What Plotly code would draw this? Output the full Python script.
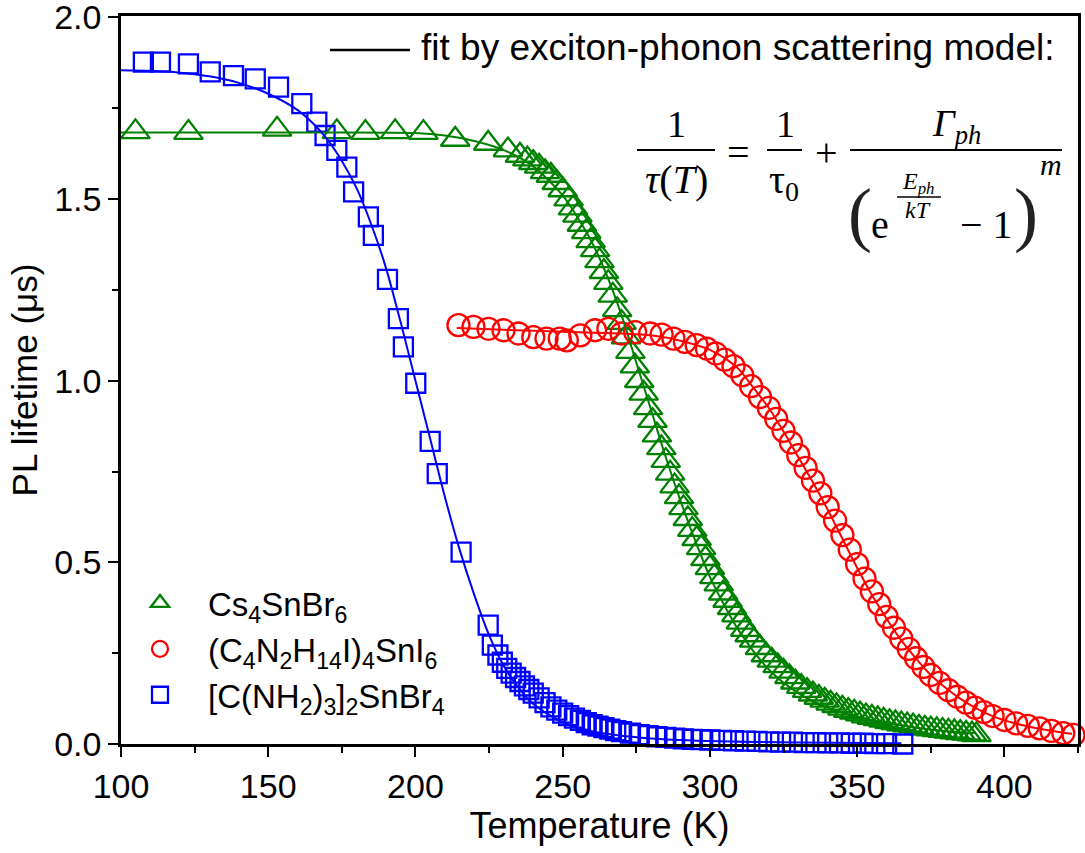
import plotly.graph_objects as go

# ---------------- data ----------------
cs_T = [104.9, 122.9, 153.0, 173.3, 183.0, 193.1, 202.7, 213.5, 224.7, 231.4, 235.5, 238, 240, 242, 244,
        246, 248, 250, 252, 253.5, 255, 256.5, 258, 259.5, 261, 262.5, 264, 265.5, 267, 268.5, 270,
        271.5, 273, 274.5, 276, 277.5, 279, 280.5, 282, 283.5, 285, 286.5, 288, 289.5, 291, 292.5,
        294, 295.5, 297, 298.5, 300, 301.5, 303, 304.5, 306, 307.5, 309, 310.5, 312, 313.5, 315,
        317, 319, 321, 323, 325, 327, 329, 331, 333, 335, 337, 339, 341, 343, 345, 347, 349, 351,
        353, 355, 357, 359, 361, 363, 365, 367, 369, 371, 373, 375, 377, 379, 381, 383, 385, 387,
        389, 390.5]
cs_tau = [1.685, 1.683, 1.692, 1.685, 1.683, 1.685, 1.683, 1.664, 1.653, 1.635, 1.62, 1.61, 1.60, 1.59, 1.575,
          1.565, 1.545, 1.525, 1.50, 1.475, 1.455, 1.43, 1.41, 1.385, 1.36, 1.33, 1.30, 1.27, 1.235, 1.195, 1.16,
          1.12, 1.08, 1.04, 1.00, 0.965, 0.925, 0.89, 0.85, 0.815, 0.78, 0.745, 0.71, 0.68, 0.65, 0.62,
          0.59, 0.565, 0.54, 0.51, 0.485, 0.46, 0.44, 0.415, 0.395, 0.375, 0.355, 0.335, 0.315, 0.30, 0.285,
          0.265, 0.245, 0.23, 0.215, 0.20, 0.185, 0.17, 0.158, 0.147, 0.137, 0.128, 0.12, 0.112, 0.105, 0.098,
          0.092, 0.087, 0.082, 0.077, 0.073, 0.069, 0.065, 0.061, 0.058, 0.055, 0.052, 0.049, 0.046, 0.043,
          0.041, 0.039, 0.037, 0.035, 0.033, 0.031, 0.029, 0.027, 0.025, 0.022]

org_T = [214.6, 219.7, 224.8, 229.9, 235, 240, 244.5, 249, 251.4, 256, 261, 265.5, 270, 274.6, 279.7,
         283.6, 287.6, 291.5, 295.5, 299, 302, 305, 308, 311, 314, 317, 320, 322.5, 325, 327.5, 330,
         332.5, 335, 337.5, 340, 342.5, 345, 347.5, 350, 352.5, 355, 357.5, 360, 362.5, 365, 367.5,
         370, 372.5, 375, 378, 381, 384, 387, 390, 393, 396, 400, 404, 408, 412, 416, 420, 423.5]
org_tau = [1.153, 1.148, 1.143, 1.139, 1.130, 1.120, 1.116, 1.116, 1.111, 1.125, 1.139, 1.143, 1.130, 1.134, 1.130,
           1.127, 1.116, 1.107, 1.098, 1.088, 1.075, 1.058, 1.040, 1.015, 0.985, 0.955, 0.925, 0.895, 0.862, 0.83, 0.795,
           0.76, 0.725, 0.69, 0.652, 0.615, 0.575, 0.535, 0.495, 0.455, 0.42, 0.385, 0.35, 0.32, 0.29, 0.262,
           0.236, 0.212, 0.19, 0.168, 0.148, 0.13, 0.114, 0.10, 0.088, 0.077, 0.066, 0.057, 0.05, 0.043, 0.036, 0.03, 0.025]

gua_T = [107.6, 113.4, 122.9, 130.3, 138.2, 145.6, 153.5, 161.4, 166.5, 169.3, 173.3, 176.7, 179.0, 184.0,
         185.7, 190.5, 194.2, 195.9, 200.1, 205.0, 207.4, 215.5, 224.7, 226.1, 228, 229.5, 231, 232.5, 234,
         235.5, 237, 238.5, 240, 242, 244, 246, 248, 250, 252, 254, 256, 258, 260, 262, 264, 266, 268, 270,
         273, 276, 279, 282, 285, 288, 291, 294, 297, 300, 304, 308, 312, 316, 320, 324, 328, 332, 336, 340,
         344, 348, 352, 356, 360, 365.5]
gua_tau = [1.877, 1.877, 1.872, 1.850, 1.840, 1.831, 1.808, 1.763, 1.712, 1.675, 1.634, 1.588, 1.52, 1.451,
           1.40, 1.279, 1.171, 1.093, 0.993, 0.833, 0.744, 0.528, 0.327, 0.272, 0.245, 0.225, 0.208, 0.195, 0.183,
           0.172, 0.16, 0.15, 0.14, 0.127, 0.114, 0.102, 0.093, 0.085, 0.078, 0.071, 0.065, 0.059, 0.053, 0.049,
           0.045, 0.041, 0.037, 0.034, 0.030, 0.026, 0.023, 0.020, 0.018, 0.016, 0.014, 0.013, 0.012, 0.011, 0.010,
           0.009, 0.008, 0.007, 0.006, 0.005, 0.005, 0.004, 0.004, 0.003, 0.003, 0.002, 0.002, 0.001, 0.001, 0.0]

# fit curves
cs_fit_T = [100, 150, 200, 210, 220, 230, 240, 250, 255, 260, 265, 270, 275, 280, 285, 290, 295, 300, 305,
            310, 320, 330, 340, 350, 360, 370, 380, 390]
cs_fit_tau = [1.683, 1.683, 1.682, 1.675, 1.66, 1.635, 1.59, 1.51, 1.45, 1.38, 1.29, 1.18, 1.05, 0.92, 0.79,
              0.67, 0.56, 0.46, 0.38, 0.31, 0.205, 0.14, 0.10, 0.075, 0.058, 0.045, 0.036, 0.03]
org_fit_T = [214, 230, 250, 270, 280, 290, 300, 305, 310, 315, 320, 325, 330, 335, 340, 345, 350, 355, 360,
             365, 370, 375, 380, 385, 390, 395, 400, 410, 423]
org_fit_tau = [1.145, 1.14, 1.135, 1.13, 1.125, 1.11, 1.085, 1.062, 1.03, 0.978, 0.925, 0.86, 0.79, 0.72, 0.645,
               0.565, 0.485, 0.41, 0.345, 0.285, 0.235, 0.19, 0.155, 0.125, 0.10, 0.08, 0.065, 0.045, 0.028]
gua_fit_T = [100, 110, 120, 130, 140, 150, 160, 165, 170, 175, 180, 185, 190, 195, 200, 205, 210, 215, 220,
             225, 230, 235, 240, 250, 260, 280, 300, 330, 365]
gua_fit_tau = [1.855, 1.853, 1.848, 1.838, 1.82, 1.79, 1.745, 1.71, 1.665, 1.605, 1.53, 1.43, 1.31, 1.16, 1.0,
               0.84, 0.68, 0.535, 0.41, 0.30, 0.215, 0.155, 0.11, 0.06, 0.035, 0.015, 0.008, 0.004, 0.002]

names = ["Cs<sub>4</sub>SnBr<sub>6</sub>",
         "(C<sub>4</sub>N<sub>2</sub>H<sub>14</sub>I)<sub>4</sub>SnI<sub>6</sub>",
         "[C(NH<sub>2</sub>)<sub>3</sub>]<sub>2</sub>SnBr<sub>4</sub>"]
GREEN, RED, BLUE = "#008000", "#ff0000", "#0000ff"

# ---------------- figure ----------------
W, H = 1085, 853
L, R, T, B = 121, 7, 16, 109
def px(x):
    return (x - L) / (W - L - R)
def py(y):
    return (H - B - y) / (H - T - B)

fig = go.Figure()
fig.add_trace(go.Scatter(x=cs_T, y=cs_tau, mode="markers", name=names[0], cliponaxis=False,
                         marker=dict(symbol="triangle-up-open", size=25, color=GREEN, line=dict(width=2.3, color=GREEN))))
fig.add_trace(go.Scatter(x=org_T, y=org_tau, mode="markers", name=names[1], cliponaxis=False,
                         marker=dict(symbol="circle-open", size=22, color=RED, line=dict(width=2.3, color=RED))))
fig.add_trace(go.Scatter(x=gua_T, y=gua_tau, mode="markers", name=names[2], cliponaxis=False,
                         marker=dict(symbol="square-open", size=19, color=BLUE, line=dict(width=2.3, color=BLUE))))
for fx, fy, c in [(cs_fit_T, cs_fit_tau, GREEN), (org_fit_T, org_fit_tau, RED), (gua_fit_T, gua_fit_tau, BLUE)]:
    fig.add_trace(go.Scatter(x=fx, y=fy, mode="lines", line=dict(color=c, width=2, shape="spline", smoothing=0.8),
                             showlegend=False, hoverinfo="skip", cliponaxis=False))

FONT = "Liberation Sans, Arial, sans-serif"
SERIF = "Liberation Serif, Times New Roman, serif"

axis_common = dict(showline=True, linewidth=2.5, linecolor="black", mirror=True, ticks="outside",
                   ticklen=10, tickwidth=2, tickcolor="black", showgrid=False, zeroline=False,
                   ticklabeloverflow="allow", automargin=False,
                   tickfont=dict(family=FONT, size=34, color="black"))
fig.update_xaxes(range=[100, 425], tick0=100, dtick=50,
                 minor=dict(ticks="outside", ticklen=6, tickwidth=2, tickcolor="black", dtick=25),
                 title=dict(text="Temperature (K)", font=dict(family=FONT, size=36, color="black"), standoff=8),
                 **axis_common)
fig.update_yaxes(range=[0, 2.004], tick0=0, dtick=0.5, tickformat=".1f",
                 minor=dict(ticks="outside", ticklen=6, tickwidth=2, tickcolor="black", dtick=0.25),
                 title=dict(text="PL lifetime (μs)", font=dict(family=FONT, size=35, color="black"), standoff=6),
                 **axis_common)

fig.update_layout(
    width=W, height=H, margin=dict(l=L, r=R, t=T, b=B, autoexpand=False),
    paper_bgcolor="white", plot_bgcolor="white",
    font=dict(family=FONT, color="black"),
    legend=dict(x=px(112), y=py(575), xanchor="left", yanchor="top", bgcolor="rgba(0,0,0,0)",
                font=dict(family=FONT, size=33, color="black"), itemwidth=86, tracegroupgap=2),
)

# fit-line label at top
fig.add_shape(type="line", xref="paper", yref="paper", x0=px(330), x1=px(410), y0=py(50), y1=py(50),
              line=dict(color="black", width=2.5))
ann = []
def A(x, y, text, size, family=SERIF, color="black", **kw):
    ann.append(dict(x=px(x), y=py(y), xref="paper", yref="paper", text=text, showarrow=False,
                    xanchor=kw.get("xanchor", "center"), yanchor="middle",
                    font=dict(family=family, size=size, color=color)))
A(419, 48, "fit by exciton-phonon scattering model:", 37, family=FONT, xanchor="left")

# equation  1/τ(T) = 1/τ0 + Γph / (e^(Eph/kT) − 1)^m
A(676, 124, "1", 38)
A(676, 180, "<i>τ</i>(<i>T</i>)", 40)
A(738, 152, "=", 40)
A(785, 124, "1", 38)
A(784, 182, "τ<sub>0</sub>", 40)
A(826, 152, "+", 40)
A(956, 126, "<i>Γ<sub>ph</sub></i>", 38)
A(860, 214, "(", 72, color="#222222")
A(880, 224, "e", 40)
A(918, 183, "<i>E<sub>ph</sub></i>", 24)
A(918, 210, "<i>kT</i>", 24)
A(986, 224, "− 1", 40)
A(1026, 214, ")", 72, color="#222222")
A(1051, 164, "<i>m</i>", 30)
fig.update_layout(annotations=ann)
for x0, x1, y in [(637, 715, 150), (767, 802, 150), (850, 1062, 150), (897, 941, 197)]:
    fig.add_shape(type="line", xref="paper", yref="paper", x0=px(x0), x1=px(x1), y0=py(y), y1=py(y),
                  line=dict(color="black", width=2 if y == 150 else 1.3))

fig.write_html("out.html")
